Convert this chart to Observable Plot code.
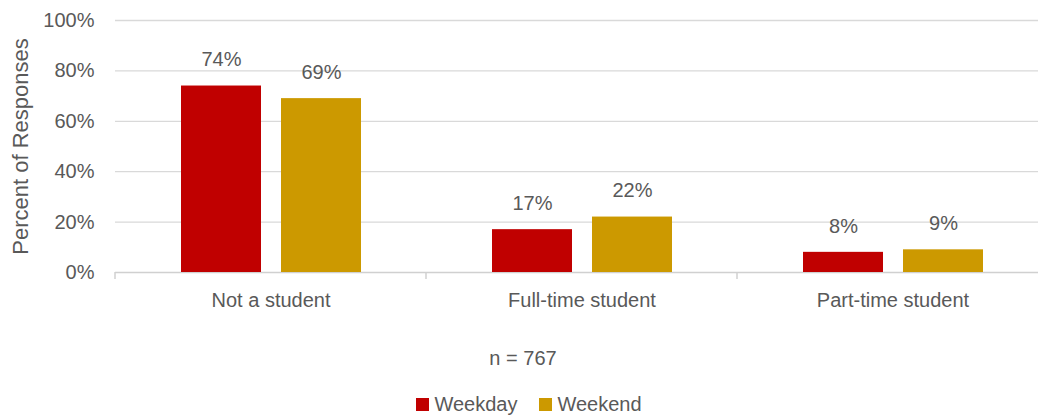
<!DOCTYPE html>
<html>
<head>
<meta charset="utf-8">
<script src="https://cdn.jsdelivr.net/npm/d3@7"></script>
<script src="https://cdn.jsdelivr.net/npm/@observablehq/plot@0.6"></script>
<style>
  html, body { margin: 0; padding: 0; background: #fff; }
  body { width: 1038px; height: 418px; overflow: hidden;
         font-family: 'Liberation Sans Narrow', 'Arial Narrow', 'Liberation Sans', Arial, sans-serif; color: #595959; }
  #caption { text-align: center; font-size: 20px; margin-top: 24px; height: 24px; line-height: 24px; padding-left: 8px; }
  #legend { display: flex; justify-content: center; gap: 22px; margin-top: 22px; font-size: 20px; line-height: 24px; padding-left: 20px; }
  #legend span.item { display: flex; align-items: center; gap: 5px; }
  #legend span.sw { width: 13px; height: 13px; display: inline-block; }
</style>
</head>
<body>
<div id="chart"></div>
<div id="caption"></div>
<div id="legend"></div>
<script>
const categories = ["Not a student", "Full-time student", "Part-time student"];
const seriesNames = ["Weekday", "Weekend"];
const weekdayValues = [74, 17, 8];
const weekendValues = [69, 22, 9];
const yTicks = [0, 20, 40, 60, 80, 100];
const colors = ["#C00000", "#CC9900"];
const captionText = "n = 767";
const yLabel = "Percent of Responses";

const data = [];
categories.forEach((c, i) => {
  data.push({category: c, series: seriesNames[0], value: weekdayValues[i]});
  data.push({category: c, series: seriesNames[1], value: weekendValues[i]});
});

const font = "'Liberation Sans Narrow', 'Arial Narrow', 'Liberation Sans', Arial, sans-serif";
const plot = Plot.plot({
  width: 1038,
  height: 322,
  marginTop: 20,
  marginBottom: 50,
  marginLeft: 115,
  marginRight: -10,
  style: {fontFamily: font, fontSize: "20px", color: "#595959", background: "#fff"},
  fx: {domain: categories, padding: 0, label: null},
  x: {domain: seriesNames, paddingInner: 0.2, paddingOuter: 0.65, axis: null},
  y: {domain: [0, 100], label: null},
  color: {domain: seriesNames, range: colors},
  marks: [
    Plot.ruleY(yTicks.slice(1), {stroke: "#d9d9d9", strokeWidth: 1.3}),
    Plot.ruleY([0], {stroke: "#d0d0d0", strokeWidth: 1.5}),
    Plot.axisY({ticks: yTicks, tickFormat: d => d + "%", tickSize: 0, tickPadding: 21,
                fontSize: 20, fill: "#595959", label: null}),
    Plot.axisY({ticks: [], tickSize: 0, fontSize: 22, fill: "#595959", label: yLabel,
                labelAnchor: "center", labelArrow: "none", labelOffset: 103}),
    Plot.axisFx({anchor: "bottom", tickSize: 0, tickPadding: 20, fontSize: 20, fill: "#595959", label: null}),
    Plot.barY(data, {fx: "category", x: "series", y: "value", fill: "series"}),
    Plot.text(data, {fx: "category", x: "series", y: "value", text: d => d.value + "%",
                     dy: -26, fontSize: 20, fill: "#595959"})
  ]
});
document.getElementById("chart").appendChild(plot);

// category boundary ticks below the baseline, placed with the plot's own scales
const fx = plot.scale("fx"), y = plot.scale("y");
const svg = d3.select(plot);
const bounds = categories.map(c => fx.apply(c)).concat([fx.apply(categories[categories.length - 1]) + fx.bandwidth]);
svg.append("g").selectAll("line").data(bounds).join("line")
  .attr("x1", d => d).attr("x2", d => d)
  .attr("y1", y.apply(0)).attr("y2", y.apply(0) + 7)
  .attr("stroke", "#d0d0d0").attr("stroke-width", 1.5);

document.getElementById("caption").textContent = captionText;
const legend = d3.select("#legend");
seriesNames.forEach((s, i) => {
  const item = legend.append("span").attr("class", "item");
  item.append("span").attr("class", "sw").style("background", colors[i]);
  item.append("span").text(s);
});
</script>
</body>
</html>
